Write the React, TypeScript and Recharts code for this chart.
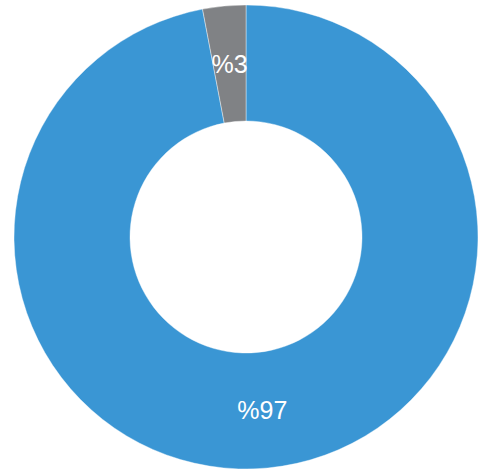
import { Cell, Pie, PieChart } from 'recharts';

const labels = ['A', 'B'];
const values = [97, 3];
const colors = ['#3a96d4', '#808285'];

const data = labels.map((name, i) => ({ name, value: values[i] }));

const RADIAN = Math.PI / 180;

function renderLabel(props: any) {
  const { cx, cy, midAngle, innerRadius, outerRadius, value } = props;
  const r = (innerRadius + outerRadius) / 2;
  const x = cx + r * Math.cos(-midAngle * RADIAN);
  const y = cy + r * Math.sin(-midAngle * RADIAN);
  return (
    <text
      x={x}
      y={y}
      fill="#ffffff"
      textAnchor="middle"
      dominantBaseline="central"
      fontSize={25}
      fontFamily="'Liberation Sans', Arial, sans-serif"
    >
      {`%${value}`}
    </text>
  );
}

export default function App() {
  return (
    <div style={{ position: 'absolute', left: 0, top: 0, width: 485, height: 475, background: '#fff' }}>
      <PieChart width={485} height={475} margin={{ top: 0, right: 0, bottom: 0, left: 0 }}>
        <Pie
          data={data}
          dataKey="value"
          cx={246}
          cy={237}
          innerRadius={116}
          outerRadius={232}
          startAngle={90}
          endAngle={-270}
          stroke="#ffffff"
          strokeOpacity={0.4}
          strokeWidth={1}
          label={renderLabel}
          labelLine={false}
          isAnimationActive={false}
        >
          {data.map((d, i) => (
            <Cell key={d.name} fill={colors[i]} />
          ))}
        </Pie>
      </PieChart>
    </div>
  );
}
